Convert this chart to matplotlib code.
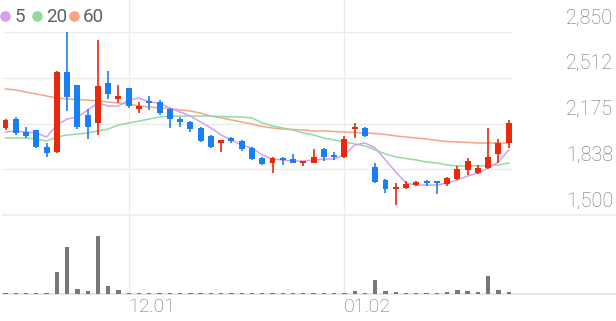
import matplotlib
matplotlib.use('Agg')
import matplotlib.pyplot as plt
import matplotlib.transforms as mtransforms
from matplotlib.lines import Line2D

plt.rcParams['font.family'] = ['Roboto', 'DejaVu Sans']

# ---------------- data ----------------
opens = [2142, 2208, 2112, 2127, 2002, 1965, 2555, 2459, 2238, 2179,
         2474, 2356, 2437, 2282, 2341, 2334, 2282, 2208, 2186, 2142,
         2083, 2031, 2068, 2046, 1994, 1920, 1884, 1913, 1913, 1884,
         1884, 1987, 1935, 1928, 2134, 2142, 1854, 1758, 1692, 1699,
         1721, 1743, 1743, 1729, 1765, 1832, 1810, 1847, 1950, 2031]
highs = [2208, 2223, 2149, 2127, 2031, 2560, 2850, 2459, 2282, 2791,
         2562, 2459, 2437, 2334, 2378, 2348, 2289, 2223, 2194, 2149,
         2090, 2053, 2075, 2053, 2002, 1928, 1925, 1928, 1950, 1895,
         1987, 1994, 1965, 2083, 2179, 2149, 1884, 1765, 1736, 1751,
         1750, 1758, 1751, 1780, 1861, 1920, 1869, 2142, 2061, 2201]
lows = [2127, 2090, 2068, 1995, 1928, 1960, 2267, 2134, 2061, 2090,
        2356, 2326, 2289, 2252, 2275, 2238, 2142, 2149, 2112, 2039,
        1995, 1965, 2031, 1973, 1906, 1869, 1810, 1869, 1880, 1862,
        1880, 1898, 1906, 1920, 2068, 2075, 1735, 1662, 1574, 1692,
        1713, 1714, 1655, 1714, 1758, 1795, 1802, 1840, 1884, 1994]
closes = [2201, 2105, 2083, 2002, 1957, 2555, 2370, 2149, 2149, 2452,
          2393, 2378, 2304, 2304, 2326, 2252, 2208, 2186, 2134, 2046,
          2002, 2053, 2046, 1987, 1913, 1876, 1920, 1906, 1884, 1891,
          1928, 1928, 1928, 2061, 2142, 2083, 1743, 1692, 1707, 1729,
          1743, 1736, 1736, 1773, 1839, 1898, 1847, 1928, 2031, 2179]
ma5 = [2112, 2120, 2112, 2105, 2075, 2164, 2208, 2223, 2275, 2326,
       2304, 2304, 2348, 2363, 2334, 2326, 2289, 2260, 2230, 2186,
       2142, 2090, 2053, 2016, 1994, 1943, 1913, 1906, 1898, 1898,
       1906, 1913, 1913, 1943, 2016, 2031, 1994, 1906, 1817, 1736,
       1721, 1721, 1721, 1736, 1758, 1788, 1810, 1847, 1891, 1980]
ma20 = [2068, 2068, 2068, 2061, 2046, 2075, 2090, 2097, 2105, 2120,
        2134, 2164, 2179, 2193, 2208, 2223, 2230, 2230, 2230, 2230,
        2230, 2227, 2223, 2223, 2216, 2179, 2157, 2142, 2127, 2105,
        2090, 2068, 2053, 2039, 2024, 2009, 1980, 1950, 1928, 1917,
        1906, 1891, 1884, 1869, 1862, 1862, 1862, 1865, 1869, 1884]
ma60 = [2430, 2422, 2407, 2393, 2378, 2363, 2356, 2352, 2348, 2341,
        2334, 2326, 2319, 2304, 2297, 2289, 2286, 2275, 2267, 2252,
        2230, 2216, 2201, 2186, 2171, 2153, 2142, 2134, 2131, 2127,
        2120, 2120, 2116, 2112, 2109, 2105, 2101, 2094, 2083, 2075,
        2068, 2061, 2050, 2042, 2039, 2035, 2031, 2031, 2031, 2031]
volumes = [30000, 30000, 30000, 30000, 40000, 880000, 1880000, 200000, 120000, 2320000,
           320000, 160000, 40000, 40000, 40000, 40000, 40000, 40000, 40000, 40000,
           40000, 40000, 40000, 40000, 40000, 40000, 40000, 40000, 40000, 40000,
           40000, 40000, 40000, 40000, 120000, 40000, 560000, 120000, 80000, 40000,
           40000, 40000, 40000, 80000, 160000, 120000, 80000, 720000, 160000, 80000]
price_ticks = [1500, 1837.5, 2175, 2512.5, 2850]
price_tick_labels = ['1,500', '1,838', '2,175', '2,512', '2,850']
date_tick_pos = [12, 33]
date_tick_labels = ['12.01', '01.02']
ma_names = ['5', '20', '60']

# ---------------- style ----------------
RED = '#e8290b'
BLUE = '#1a7ff2'
C_MA5 = '#d69ef2'
C_MA20 = '#94d9a2'
C_MA60 = '#f7a584'
GRID = '#ececec'
TXT = '#6e6e6e'

W, H = 616, 321
fig = plt.figure(figsize=(W / 100, H / 100), dpi=100)

PX0, STEP = 5.5, 10.27
def xd(px):
    return (px - PX0) / STEP
x_left, x_right, x_grid_end = xd(3), xd(616), xd(512)

PP = 1350 / 183.0
axp = fig.add_axes([3 / W, (H - 215) / H, (616 - 3) / W, 215 / H])
axp.set_xlim(x_left, x_right)
axp.set_ylim(1500, 1500 + 215 * PP)
axv = fig.add_axes([3 / W, (H - 294) / H, (616 - 3) / W, 79 / H])
axv.set_xlim(x_left, x_right)
axv.set_ylim(0, 79 * 40000)
for ax in (axp, axv):
    ax.axis('off')

# grid
axp.hlines(price_ticks[1:], x_left, x_grid_end, color=GRID, lw=1.0, zorder=0)
axp.axhline(price_ticks[0], color=GRID, lw=1.2, zorder=0, clip_on=False)
axv.axhline(0, color='#e2e2e2', lw=1.2, zorder=0, clip_on=False)
for p in date_tick_pos:
    axp.axvline(p, color=GRID, lw=1.0, zorder=0)
    axv.axvline(p, color=GRID, lw=1.0, zorder=0)

# MA lines
xs = list(range(len(closes)))
axp.plot(xs, ma60, color=C_MA60, lw=1.1, zorder=2)
axp.plot(xs, ma20, color=C_MA20, lw=1.1, zorder=2)
axp.plot(xs, ma5, color=C_MA5, lw=1.1, zorder=2)

# candles
for i in xs:
    o, h, l, c = opens[i], highs[i], lows[i], closes[i]
    col = RED if c >= o else BLUE
    axp.vlines(i, l, h, color=col, lw=1.2, zorder=3)
    bot = min(o, c)
    hgt = max(abs(c - o), 12)
    axp.bar(i, hgt, bottom=bot, width=0.58, color=col, zorder=4, linewidth=0)

# volume
axv.bar(xs, volumes, width=0.42, color='#777777', linewidth=0, zorder=3)

# price labels on the right
tr = mtransforms.blended_transform_factory(fig.transFigure, axp.transData)
tr = mtransforms.offset_copy(tr, fig=fig, x=0, y=14, units='dots')
for v, lab in zip(price_ticks, price_tick_labels):
    axp.text(613 / W, v, lab, transform=tr, ha='right', va='center',
             fontsize=14.2, color=TXT, fontweight='light')

# date labels
trx = mtransforms.blended_transform_factory(axv.transData, axv.transAxes)
trx = mtransforms.offset_copy(trx, fig=fig, x=0, y=-13.5, units='dots')
for p, lab in zip(date_tick_pos, date_tick_labels):
    axv.text(p - 0.05, 0, lab, transform=trx, ha='left', va='center',
             fontsize=14, color=TXT, fontweight='light')

# legend
leg_cols = [C_MA5, C_MA20, C_MA60]
dot_x = [5, 37, 74]
txt_x = [15, 46, 83]
for name, col, dx, tx in zip(ma_names, leg_cols, dot_x, txt_x):
    fig.add_artist(Line2D([dx / W], [1 - 16 / H], marker='o', ms=7.6,
                          color=col, markeredgewidth=0, linestyle='None',
                          transform=fig.transFigure))
    fig.text(tx / W, 1 - 22 / H, name, ha='left', va='baseline',
             fontsize=13.5, color='#606060')

fig.savefig('out.png', dpi=100, facecolor='white')
